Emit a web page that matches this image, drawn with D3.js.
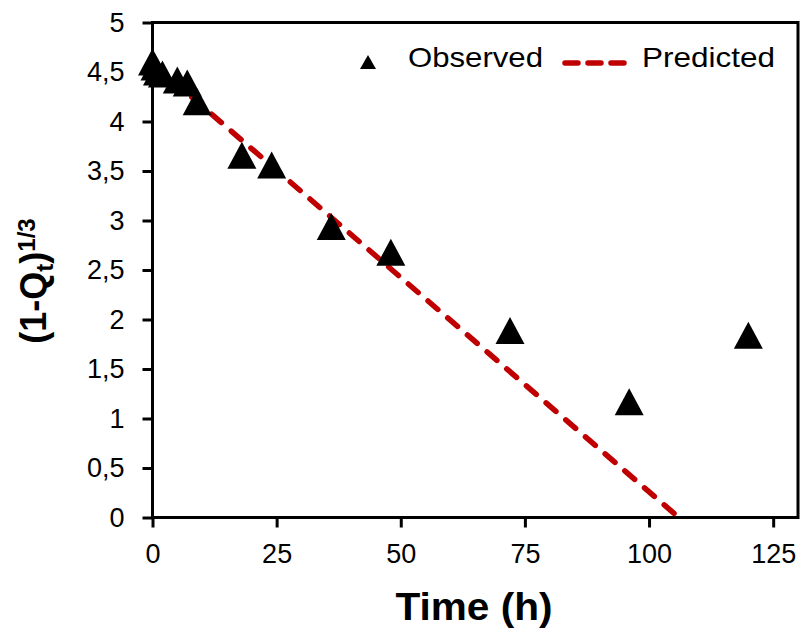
<!DOCTYPE html>
<html>
<head>
<meta charset="utf-8">
<script src="https://cdn.jsdelivr.net/npm/d3@7"></script>
<style>
  body { margin: 0; background: #fff; }
  svg { display: block; font-family: 'Liberation Sans', Arial, sans-serif; }
</style>
</head>
<body>
<svg id="canvas"></svg>
<script>
// observed points (time in h, (1-Qt)^1/3)
let observedTime = [0, 0.5, 1, 2, 5, 7, 9, 18, 24, 36, 48, 72, 96, 120];
let observedValue = [4.6, 4.55, 4.5, 4.48, 4.42, 4.39, 4.2, 3.66, 3.56, 2.94, 2.68, 1.89, 1.17, 1.84];

// predicted straight line
let predictedTime = [0, 106];
let predictedValue = [4.59, 0];

let xTicks = [0, 25, 50, 75, 100, 125];
let yTicks = [0, 0.5, 1, 1.5, 2, 2.5, 3, 3.5, 4, 4.5, 5];

let width = 803;
let height = 636;
let margin = { top: 22.5, right: 5, bottom: 118.5, left: 152.5 };

let canvas = d3.select('#canvas')
    .attr('width', width)
    .attr('height', height);

let xScale = d3.scaleLinear()
    .domain([0, 130])
    .range([margin.left, width - margin.right]);

let yScale = d3.scaleLinear()
    .domain([0, 5])
    .range([height - margin.bottom, margin.top]);

let comma = d => String(d).replace('.', ',');

// axes
let xAxis = d3.axisBottom(xScale).tickValues(xTicks).tickSize(10).tickPadding(16).tickSizeOuter(0);
let yAxis = d3.axisLeft(yScale).tickValues(yTicks).tickSize(10).tickPadding(18).tickSizeOuter(0).tickFormat(comma);

let gx = canvas.append('g')
    .attr('transform', `translate(0, ${yScale(0)})`)
    .call(xAxis);
let gy = canvas.append('g')
    .attr('transform', `translate(${xScale(0)}, 0)`)
    .call(yAxis);

[gx, gy].forEach(g => {
    g.select('.domain').remove();
    g.selectAll('line').attr('stroke', '#000').attr('stroke-width', 3);
    g.selectAll('text').attr('fill', '#000').style('font-size', '27px');
});

// frame
canvas.append('rect')
    .attr('x', xScale(0))
    .attr('y', yScale(5))
    .attr('width', xScale(130) - xScale(0))
    .attr('height', yScale(0) - yScale(5))
    .attr('fill', 'none')
    .attr('stroke', '#000')
    .attr('stroke-width', 3);

// predicted line
let line = d3.line()
    .x(i => xScale(predictedTime[i]))
    .y(i => yScale(predictedValue[i]));

canvas.append('path')
    .attr('d', line(d3.range(predictedTime.length)))
    .attr('fill', 'none')
    .attr('stroke', '#c00000')
    .attr('stroke-width', 5.5)
    .attr('stroke-dasharray', '13,13')
    .attr('stroke-linecap', 'round');

// observed triangles
let tri = (w, h) => `M0,${-h / 2}L${w / 2},${h / 2}L${-w / 2},${h / 2}Z`;

canvas.selectAll('.obs')
    .data(d3.range(observedTime.length))
    .enter()
    .append('path')
    .attr('class', 'obs')
    .attr('d', tri(29, 27))
    .attr('transform', i => `translate(${xScale(observedTime[i])}, ${yScale(observedValue[i])})`)
    .attr('fill', '#000');

// legend
let legend = canvas.append('g');
legend.append('path')
    .attr('d', tri(16, 14))
    .attr('transform', 'translate(368, 62)')
    .attr('fill', '#000');
legend.append('text')
    .attr('x', 408).attr('y', 67)
    .attr('textLength', 135).attr('lengthAdjust', 'spacingAndGlyphs')
    .style('font-size', '28px')
    .text('Observed');
legend.append('line')
    .attr('x1', 565).attr('x2', 632)
    .attr('y1', 63).attr('y2', 63)
    .attr('stroke', '#c00000')
    .attr('stroke-width', 5.5)
    .attr('stroke-dasharray', '13,10')
    .attr('stroke-linecap', 'round');
legend.append('text')
    .attr('x', 642).attr('y', 67)
    .attr('textLength', 133).attr('lengthAdjust', 'spacingAndGlyphs')
    .style('font-size', '28px')
    .text('Predicted');

// x title
canvas.append('text')
    .attr('x', 474).attr('y', 620)
    .attr('text-anchor', 'middle')
    .attr('textLength', 157).attr('lengthAdjust', 'spacingAndGlyphs')
    .style('font-size', '38px')
    .style('font-weight', 'bold')
    .text('Time (h)');

// y title
let yTitle = canvas.append('text')
    .attr('transform', 'translate(46, 281) rotate(-90)')
    .attr('text-anchor', 'middle')
    .style('font-weight', 'bold')
    .style('font-size', '36px');
yTitle.append('tspan').text('(1-Q');
yTitle.append('tspan').attr('dy', 7).style('font-size', '24px').text('t');
yTitle.append('tspan').attr('dy', -7).text(')');
yTitle.append('tspan').attr('dy', -11).style('font-size', '24px').text('1/3');
</script>
</body>
</html>
